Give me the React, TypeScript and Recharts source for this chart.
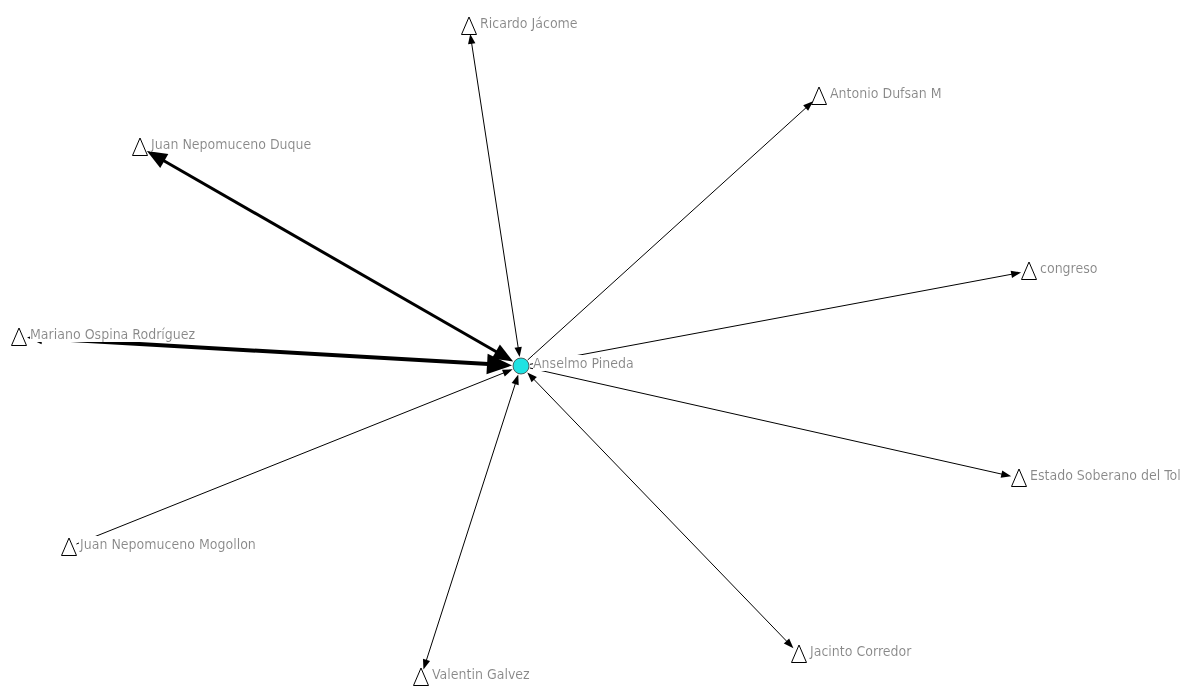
import { ScatterChart, Scatter, XAxis, YAxis } from 'recharts'

const WIDTH = 1181
const HEIGHT = 686

// actors and their layout positions
const nodeNames = [
  'Anselmo Pineda',
  'Ricardo Jácome',
  'Antonio Dufsan M',
  'Juan Nepomuceno Duque',
  'congreso',
  'Mariano Ospina Rodríguez',
  'Estado Soberano del Tolima',
  'Juan Nepomuceno Mogollon',
  'Valentin Galvez',
  'Jacinto Corredor',
]
const nodeX = [521, 469, 819, 140, 1029, 19, 1019, 69, 421, 799]
const nodeY = [366, 26, 96, 147, 271, 337, 478, 547, 677, 654]

// ties between Anselmo Pineda (ego) and the other actors
const EGO = 0
const tieAlters = [1, 2, 3, 4, 5, 6, 7, 8, 9]
const strengthToEgo = [1, 0, 3, 0, 4, 0, 1, 1, 1]
const strengthFromEgo = [1, 1, 3, 1, 2, 1, 0, 1, 1]

const NODE_R = 8
const EGO_R = 9
const arrowLen = (s: number) => 5 + 5 * s
const arrowHalf = (s: number) => 1.5 + 2.2 * s

type Pt = { x: number; y: number }
type ArrowPt = Pt & { ux: number; uy: number; len: number; half: number }

const nodes = nodeNames.map((name, i) => ({ name, x: nodeX[i], y: nodeY[i], ego: i === EGO }))

const segments: { id: string; width: number; pts: Pt[] }[] = []
const arrows: ArrowPt[] = []

tieAlters.forEach((a, k) => {
  const ex = nodeX[EGO]
  const ey = nodeY[EGO]
  const ax = nodeX[a]
  const ay = nodeY[a]
  const d = Math.hypot(ax - ex, ay - ey)
  const ux = (ax - ex) / d
  const uy = (ay - ey) / d
  const sIn = strengthToEgo[k]
  const sOut = strengthFromEgo[k]
  const startOff = EGO_R + (sIn ? arrowLen(sIn) * 0.6 : 0)
  const endOff = NODE_R + (sOut ? arrowLen(sOut) * 0.6 : 0)
  segments.push({
    id: nodeNames[a],
    width: Math.max(sIn, sOut),
    pts: [
      { x: ex + ux * startOff, y: ey + uy * startOff },
      { x: ax - ux * endOff, y: ay - uy * endOff },
    ],
  })
  if (sIn) {
    arrows.push({ x: ex + ux * EGO_R, y: ey + uy * EGO_R, ux: -ux, uy: -uy, len: arrowLen(sIn), half: arrowHalf(sIn) })
  }
  if (sOut) {
    arrows.push({ x: ax - ux * NODE_R, y: ay - uy * NODE_R, ux, uy, len: arrowLen(sOut), half: arrowHalf(sOut) })
  }
})

const NoDot = () => <g />

const ArrowHead = (props: any) => {
  const { cx, cy, payload } = props
  const { ux, uy, len, half } = payload
  const bx = cx - ux * len
  const by = cy - uy * len
  const px = -uy * half
  const py = ux * half
  return <polygon points={`${cx},${cy} ${bx + px},${by + py} ${bx - px},${by - py}`} fill="#000" />
}

const NodeShape = (props: any) => {
  const { cx, cy, payload } = props
  const tri = `${cx},${cy - 9} ${cx - 7.5},${cy + 8.5} ${cx + 7.5},${cy + 8.5}`
  return (
    <g>
      {payload.ego && (
        <defs>
          <filter id="labelBg" x="0" y="0" width="1" height="1">
            <feFlood floodColor="#ffffff" />
            <feComposite in="SourceGraphic" operator="over" />
          </filter>
        </defs>
      )}
      {payload.ego ? (
        <circle cx={cx} cy={cy} r={8} fill="#1fe2e2" stroke="#3c3c3c" strokeWidth={0.8} />
      ) : (
        <polygon points={tri} fill="#fff" stroke="#000" strokeWidth={1} />
      )}
      <text
        x={cx + (payload.ego ? 12 : 11)}
        y={cy + 2}
        filter="url(#labelBg)"
        fill="#888888"
        fontSize={14}
        fontFamily="'DejaVu Sans Condensed', 'DejaVu Sans', sans-serif"
        style={{ fontStretch: 'condensed' }}
      >
        {payload.name}
      </text>
    </g>
  )
}

export default function App() {
  return (
    <div style={{ width: WIDTH, height: HEIGHT, overflow: 'hidden', background: '#fff' }}>
      <style>{'body{margin:0;overflow:hidden;background:#fff}'}</style>
      <ScatterChart width={WIDTH} height={HEIGHT} margin={{ top: 0, right: 0, bottom: 0, left: 0 }}>
        <XAxis type="number" dataKey="x" domain={[0, WIDTH]} hide allowDataOverflow />
        <YAxis type="number" dataKey="y" domain={[0, HEIGHT]} reversed hide allowDataOverflow />
        {segments.map((s) => (
          <Scatter
            key={s.id}
            data={s.pts}
            line={{ stroke: '#000', strokeWidth: s.width }}
            shape={NoDot}
            isAnimationActive={false}
          />
        ))}
        <Scatter data={arrows} shape={ArrowHead} isAnimationActive={false} />
        <Scatter data={nodes} shape={NodeShape} isAnimationActive={false} />
      </ScatterChart>
    </div>
  )
}
